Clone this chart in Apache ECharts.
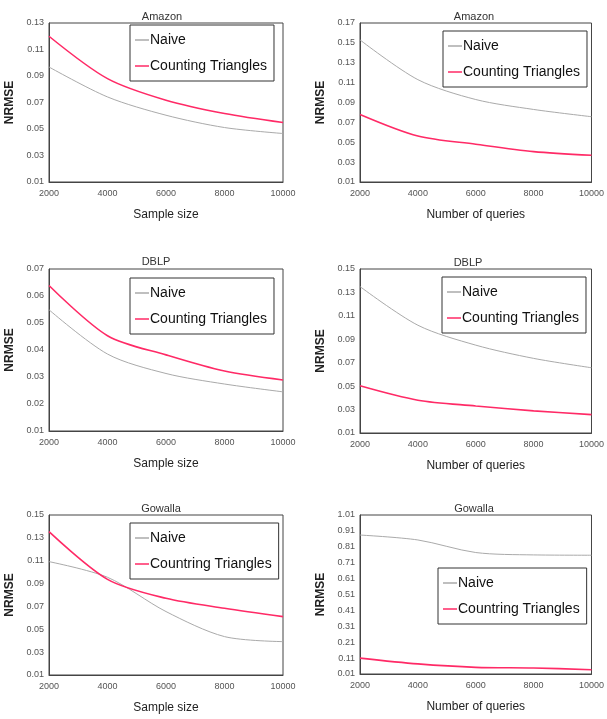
<!DOCTYPE html>
<html><head><meta charset="utf-8">
<script src="https://cdn.jsdelivr.net/npm/echarts@6/dist/echarts.min.js"></script>
<style>html,body{margin:0;padding:0;background:#fff}#c{width:607px;height:719px}</style>
</head><body><div id="c"></div>
<script>
const xValues = [2000, 4000, 6000, 8000, 10000];
const xTicks = [2000, 4000, 6000, 8000, 10000];

const titles = ['Amazon', 'Amazon', 'DBLP', 'DBLP', 'Gowalla', 'Gowalla'];
const xNames = ['Sample size', 'Number of queries', 'Sample size', 'Number of queries', 'Sample size', 'Number of queries'];
const ctNames = ['Counting Triangles', 'Counting Triangles', 'Counting Triangles', 'Counting Triangles', 'Countring Triangles', 'Countring Triangles'];

const naive1 = [0.0968, 0.0742, 0.0604, 0.0511, 0.0466];
const ct1    = [0.1200, 0.0880, 0.0717, 0.0617, 0.0549];
const naive2 = [0.1530, 0.1130, 0.0930, 0.0830, 0.0757];
const ct2    = [0.0780, 0.0563, 0.0480, 0.0406, 0.0369];
const naive3 = [0.0549, 0.0385, 0.0313, 0.0274, 0.0245];
const ct3    = [0.0639, 0.0453, 0.0382, 0.0322, 0.0289];
const naive4 = [0.1350, 0.1020, 0.0850, 0.0737, 0.0657];
const ct4    = [0.0503, 0.0380, 0.0331, 0.0289, 0.0257];
const naive5 = [0.1092, 0.0955, 0.0655, 0.0436, 0.0392];
const ct5    = [0.1354, 0.0937, 0.0771, 0.0684, 0.0611];
const naive6 = [0.884, 0.853, 0.774, 0.759, 0.757];
const ct6    = [0.110, 0.0735, 0.0519, 0.0477, 0.037];

const yTicks1 = [0.01, 0.03, 0.05, 0.07, 0.09, 0.11, 0.13];
const yTicks2 = [0.01, 0.03, 0.05, 0.07, 0.09, 0.11, 0.13, 0.15, 0.17];
const yTicks3 = [0.01, 0.02, 0.03, 0.04, 0.05, 0.06, 0.07];
const yTicks4 = [0.01, 0.03, 0.05, 0.07, 0.09, 0.11, 0.13, 0.15];
const yTicks5 = [0.01, 0.03, 0.05, 0.07, 0.09, 0.11, 0.13, 0.15];
const yTicks6 = [0.01, 0.11, 0.21, 0.31, 0.41, 0.51, 0.61, 0.71, 0.81, 0.91, 1.01];

const naiveAll = [naive1, naive2, naive3, naive4, naive5, naive6];
const ctAll = [ct1, ct2, ct3, ct4, ct5, ct6];
const yTicksAll = [yTicks1, yTicks2, yTicks3, yTicks4, yTicks5, yTicks6];

// layout
const grids = [
  {left: 49, top: 23, width: 234, height: 159},
  {left: 360, top: 23, width: 233, height: 159},
  {left: 49, top: 269, width: 234, height: 162},
  {left: 360, top: 269, width: 233, height: 164},
  {left: 49, top: 515, width: 234, height: 160},
  {left: 360, top: 515, width: 233, height: 159}
];
const titlePos = [[157, 6], [469, 6], [151, 251], [463, 252], [156, 498], [469, 498]];
const legendPos = [[130, 25], [443, 31], [130, 278], [442, 277], [130, 523], [438, 568]];

const FONT = '"Liberation Sans", Arial, sans-serif';
const option = {
  animation: false,
  backgroundColor: '#fff',
  title: [], grid: [], xAxis: [], yAxis: [], series: [], legend: []
};

for (let i = 0; i < 6; i++) {
  const g = grids[i];
  option.grid.push(Object.assign({show: true, borderColor: '#444', borderWidth: 1, backgroundColor: 'transparent'}, g));
  option.title.push({
    text: titles[i], left: titlePos[i][0], top: titlePos[i][1], textAlign: 'center',
    textStyle: {fontFamily: FONT, fontSize: 11, fontWeight: 'normal', color: '#333'}
  });
  const yt = yTicksAll[i];
  option.xAxis.push({
    type: 'value', gridIndex: i, min: xTicks[0], max: xTicks[xTicks.length - 1], interval: 2000,
    name: xNames[i], nameLocation: 'middle', nameGap: 27,
    nameTextStyle: {fontFamily: FONT, fontSize: 12, color: '#222'},
    axisLine: {show: true, lineStyle: {color: '#444', width: 1}},
    axisTick: {show: false},
    splitLine: {show: false},
    axisLabel: {fontFamily: FONT, fontSize: 9, color: '#555', margin: 7, formatter: v => String(v)}
  });
  option.yAxis.push({
    type: 'value', gridIndex: i, min: yt[0], max: yt[yt.length - 1],
    name: 'NRMSE', nameLocation: 'middle', nameGap: 33, nameRotate: 90,
    nameTextStyle: {fontFamily: FONT, fontSize: 12, fontWeight: 'bold', color: '#222'},
    axisLine: {show: true, lineStyle: {color: '#444', width: 1}},
    axisTick: {show: false},
    splitLine: {show: false},
    axisLabel: {
      fontFamily: FONT, fontSize: 9, color: '#555', margin: 5,
      customValues: yt,
      formatter: v => (Math.round(v * 100) / 100).toFixed(2)
    }
  });
  option.series.push({
    name: 'Naive' + '\u200b'.repeat(i), type: 'line', xAxisIndex: i, yAxisIndex: i, smooth: 0.3,
    symbol: 'none', lineStyle: {color: '#aaaaaa', width: 1}, itemStyle: {color: '#aaaaaa'},
    data: xValues.map((x, k) => [x, naiveAll[i][k]])
  });
  option.series.push({
    name: ctNames[i] + '\u200b'.repeat(i), type: 'line', xAxisIndex: i, yAxisIndex: i, smooth: 0.3,
    symbol: 'none', lineStyle: {color: '#ff2a66', width: 1.6}, itemStyle: {color: '#ff2a66'},
    data: xValues.map((x, k) => [x, ctAll[i][k]])
  });
  option.legend.push({
    data: [option.series[2 * i].name, option.series[2 * i + 1].name],
    orient: 'vertical', left: legendPos[i][0], top: legendPos[i][1],
    borderColor: '#333', borderWidth: 1, padding: [7, 7, 7, 5],
    itemGap: 10, itemWidth: 14, itemHeight: 1.5, icon: 'rect', selectedMode: false,
    backgroundColor: '#fff',
    textStyle: {fontFamily: FONT, fontSize: 14, color: '#111', padding: [0, 0, 0, -4], lineHeight: 16},
    formatter: n => n.replace(/\u200b/g, '')
  });
}

const chart = echarts.init(document.getElementById('c'), null, {renderer: 'canvas'});
chart.setOption(option);
</script>
</body></html>
